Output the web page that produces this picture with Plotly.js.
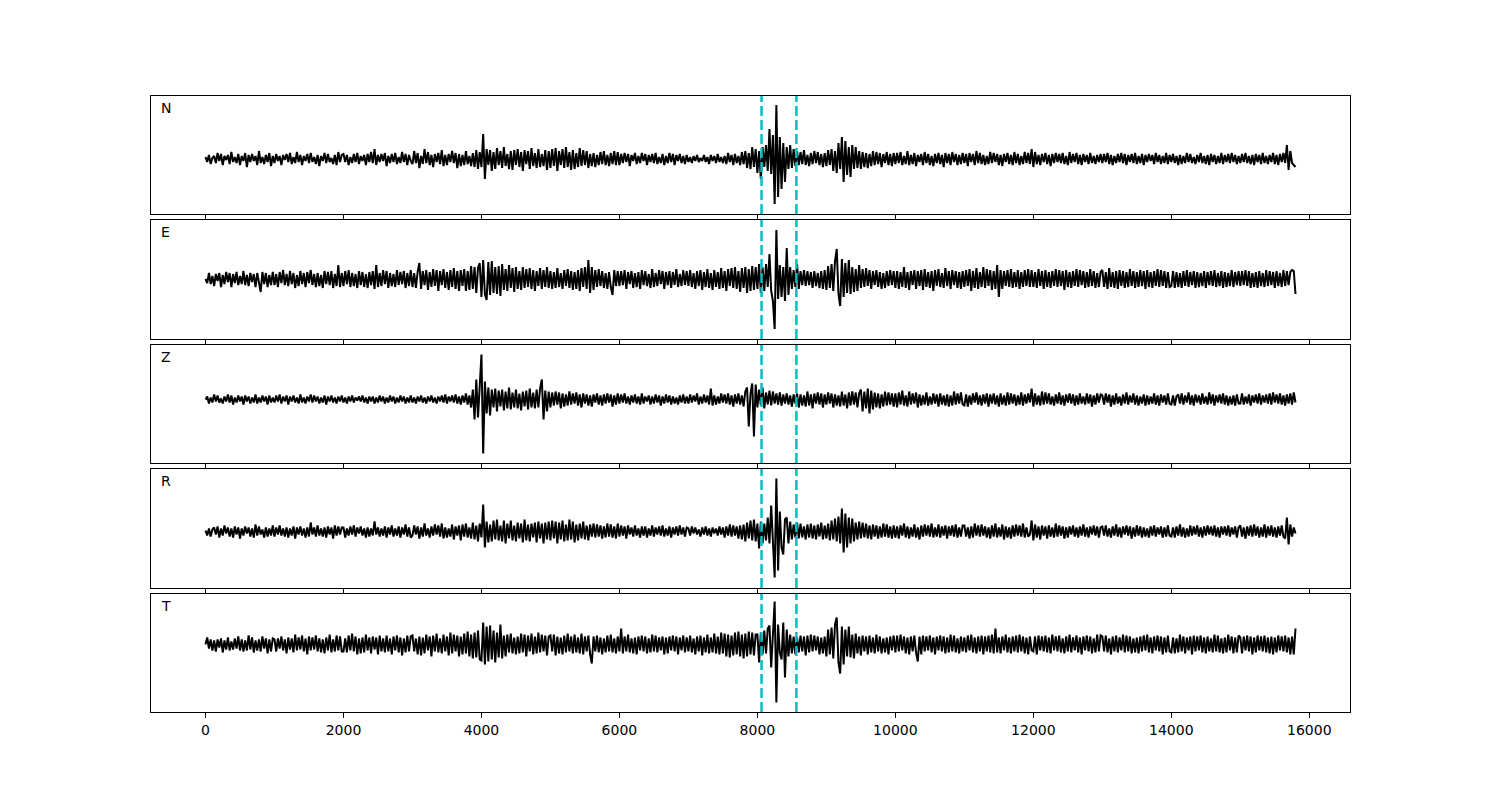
<!DOCTYPE html>
<html>
<head>
<meta charset="utf-8">
<script src="https://cdn.plot.ly/plotly-3.0.1.min.js"></script>
<style>html,body{margin:0;padding:0;background:#fff;}#chart{width:1500px;height:800px;}</style>
</head>
<body>
<div id="chart"></div>
<script>
// sample spacing of the traces (x units); one row below = 1000 x units
const dt = 25;
const components = ['N', 'E', 'Z', 'R', 'T'];
const picks = [8060, 8565];
const xTicks = [0, 2000, 4000, 6000, 8000, 10000, 12000, 14000, 16000];
const xTickLabels = ['0', '2000', '4000', '6000', '8000', '10000', '12000', '14000', '16000'];

const N = [
2,-3,4,-5,1,3,-4,6,-2,5,-6,3,-1,4,-5,7,-3,2,-4,5,-6,3,-2,6,-8,4,-3,5,-2,3,-6,8,-4,2,-5,4,-3,6,-7,3,
-4,5,-2,3,-6,4,-1,5,-3,6,-5,2,-4,7,-3,4,-6,3,-2,5,-4,6,-3,2,-5,4,-7,3,-2,6,-4,5,-3,1,-5,4,-6,7,-3,4,
5,-3,4,-6,2,-4,5,-3,6,-5,3,-2,4,-6,5,-3,7,-4,10,-6,4,-3,5,-2,6,-7,3,-4,5,-3,6,-5,2,-4,7,-3,5,-6,4,-2,
-5,8,-4,6,-9,3,-5,10,-4,7,-6,4,-8,5,-3,6,-5,9,-7,4,-6,5,-3,8,-4,6,-9,5,-7,4,-6,8,-5,3,-7,6,-8,9,-10,7,
-8,25,-20,10,-6,9,-12,7,-10,11,-6,8,-9,12,-7,5,-10,8,-11,9,-6,10,-8,7,-12,9,-5,8,-10,11,-7,6,-9,10,-8,5,-7,9,-11,8,
-9,10,-7,11,-12,8,-6,10,-9,12,-8,7,-11,9,-10,6,-8,11,-7,9,-6,8,-9,5,-7,6,-8,4,-6,7,-5,8,-6,4,-7,6,-5,8,-6,7,
-6,5,-4,6,-3,5,-7,4,-2,6,-5,3,-4,6,-2,5,-6,4,-3,5,-4,6,-5,2,-4,5,-6,3,-4,6,-3,5,-6,4,-2,5,-4,3,-5,4,
-3,2,-4,3,-2,4,-3,1,-2,4,-3,2,-5,4,-2,3,-4,5,-3,2,-4,3,-5,6,-3,4,-6,5,-4,3,-6,7,-5,8,-9,6,-10,12,-8,10,
-14,8,-20,12,-8,14,-12,30,-15,24,-45,54,-38,22,-30,16,-23,12,-10,14,-9,10,-7,8,-6,7,-5,9,-6,4,-7,6,-5,8,-4,7,-6,5,-8,6,
-7,9,-6,10,-12,8,-14,16,-10,22,-23,18,-16,12,-18,14,-10,12,-9,8,-10,7,-8,6,-9,5,-7,8,-6,7,-5,6,-8,5,-4,7,-6,5,-7,6,
-5,6,-4,7,-6,3,-5,8,-6,4,-5,6,-7,4,-3,5,-6,7,-4,5,-6,3,-7,5,-4,6,-5,4,-8,6,-4,5,-6,7,-3,5,-6,4,-5,6,
-4,5,-7,6,-3,5,-6,8,-4,6,-5,4,-6,3,-5,7,-4,6,-3,5,-6,4,-7,5,-3,6,-5,4,-6,7,-4,5,-6,3,-5,7,-4,6,-5,10,
-8,7,-5,4,-6,5,-3,6,-5,4,-7,5,-4,6,-3,5,-4,6,-5,3,-6,7,-4,5,-3,6,-5,4,-6,5,-3,4,-5,6,-4,3,-5,4,-3,5,
-4,5,-3,6,-5,4,-6,3,-4,5,-3,6,-4,5,-6,4,-3,5,-4,6,-5,3,-4,5,-6,4,-3,5,-2,4,-5,6,-3,4,-5,3,-4,6,-5,4,
-3,5,-4,3,-6,4,-5,3,-4,6,-3,5,-4,2,-5,4,-3,6,-4,3,-5,4,-6,5,-3,4,-5,3,-4,6,-5,4,-3,5,-4,6,-3,4,-5,3,
-4,5,-3,6,-4,3,-5,4,-6,5,-3,4,-5,6,-4,3,-5,4,-3,6,-5,4,-6,5,-3,6,-4,14,-11,8,-4,-6,-8
];

const E = [
0,-4,6,-5,3,-7,5,-2,6,-8,4,-5,7,-3,6,-8,5,-4,7,-6,3,-5,8,-6,4,-7,6,-3,5,-8,6,-4,-13,7,-5,6,-8,4,-6,7,
-6,5,-8,7,-4,9,-6,5,-7,8,-5,6,-9,4,-7,8,-5,6,-8,7,-4,9,-6,5,-8,6,-7,4,-9,8,-5,7,-6,8,-9,5,-7,14,-8,6,
-7,8,-5,9,-8,6,-7,5,-9,8,-6,7,-8,5,-9,7,-6,8,-10,14,-8,6,-7,9,-5,8,-9,6,-7,5,-8,9,-6,7,-5,8,-9,6,-7,9,
-8,6,-9,7,16,-10,8,-6,9,-11,7,-8,10,-7,9,-12,8,-6,10,-9,7,-11,9,-8,11,-10,8,-12,9,-7,10,-12,8,-11,13,-10,12,-14,11,16,
-18,19,-15,-21,17,-16,18,-14,12,-15,13,-17,15,-11,10,-12,14,-9,11,-13,12,-10,8,-11,12,-9,10,-8,11,-10,9,-12,8,-7,11,-10,9,-8,12,-9,
8,-10,7,-9,11,-8,6,-10,9,-7,10,-9,8,-11,7,-10,9,-12,11,-8,12,-10,19,-14,12,-11,9,-8,10,-7,8,-9,6,-10,7,-8,-16,9,-7,8,
-7,8,-6,9,-10,7,-5,8,-9,6,-8,7,-10,9,-6,8,-7,5,-9,10,-8,6,-7,9,-5,8,-10,7,-6,8,-9,7,-6,10,-8,5,-7,9,-6,8,
-7,9,-8,6,-10,8,-7,9,-11,7,-8,10,-9,6,-11,9,-8,7,-10,11,-9,8,-12,10,-7,11,-9,12,-10,8,-13,11,-9,12,-14,10,-12,13,-11,12,
-10,15,-14,12,-12,15,-8,25,-12,-22,-50,49,-20,14,-18,12,-22,31,-16,12,-10,9,-8,15,-10,8,-6,9,-7,8,-6,7,-9,8,-7,6,-9,8,-10,9,
-11,13,-9,15,-12,18,30,-15,-27,20,-18,16,-14,19,-15,12,-13,10,-12,14,-9,10,-8,11,-7,9,-10,8,-6,9,-8,7,-10,6,-9,8,-7,9,-6,8,
-9,8,-10,7,-8,12,-9,7,-11,8,-6,9,-10,8,-7,9,-11,10,-8,7,-9,8,-12,9,-7,10,-8,6,-9,11,-7,8,-10,9,-6,8,-9,7,-10,8,
-8,9,-7,10,-12,8,-9,11,-10,7,-8,12,-9,10,-7,9,-11,8,-10,14,-18,9,-10,8,-7,9,-8,10,-9,7,-8,9,-10,7,-8,9,-7,10,-8,9,
-8,7,-9,10,-7,8,-10,9,-8,7,-9,8,-7,10,-8,9,-7,8,-11,9,-8,7,-9,8,-7,10,-8,9,-6,8,-9,7,-8,10,-7,8,-9,6,-8,7,
9,-8,7,-10,11,-8,7,-9,8,-10,9,-7,8,-9,7,-8,10,-7,8,-9,7,-8,9,-7,8,-10,9,-8,7,-9,8,-7,10,-8,9,-7,8,-9,7,-8,
-7,8,-9,7,-8,6,-9,8,-7,9,-8,7,-6,8,-9,7,-8,6,-7,8,-9,7,-6,8,-7,9,-8,6,-7,8,-9,7,-8,6,-7,9,-8,7,-6,8,
-7,8,-6,9,-7,8,-9,6,-8,7,-9,8,-7,6,-8,9,-7,8,-6,7,-9,8,-7,6,-8,9,-7,8,-6,7,9,8,-15
];

const Z = [
0,3,-4,2,-3,5,-2,4,-3,1,-4,3,-2,5,-3,4,-5,2,-3,4,-2,3,-5,4,-2,3,-4,2,-3,5,-4,2,-3,4,-2,3,-5,4,-3,2,
-3,4,-2,5,-4,3,-2,4,-5,3,-2,4,-3,2,-4,5,-3,2,-4,3,-2,5,-3,4,-2,3,-4,2,-3,4,-5,3,-2,4,-3,2,-4,3,-2,4,
-3,2,-4,3,-2,4,-3,2,-1,3,-2,4,-3,2,-4,3,-2,3,-4,2,-3,4,-2,3,-4,2,-3,4,-2,3,-4,2,-3,4,-2,3,-4,2,-3,4,
-3,2,-4,3,-2,4,-3,2,-4,3,-2,4,-3,2,-4,3,-2,4,-3,5,-4,3,-2,4,-3,5,-4,3,-5,4,-3,6,-5,4,-8,10,-20,20,-18,12,
45,-54,18,-14,12,-16,10,-8,11,-12,9,-7,10,-11,8,-9,12,-10,7,-8,10,-9,6,-11,8,-7,9,-10,11,-8,7,-9,10,-8,11,20,-20,9,-12,8,
-8,7,-6,8,-5,7,-9,6,-7,5,-6,8,-5,6,-4,7,-6,5,-8,6,-4,5,-6,4,-7,5,-3,6,-5,4,-6,5,-4,6,-3,5,-7,4,-5,6,
-4,5,-3,6,-4,3,-5,4,-3,5,-4,3,-5,6,-4,3,-2,4,-5,3,-4,5,-3,4,-6,3,-4,5,-3,4,-5,3,-4,2,-5,4,-3,5,-4,3,
-4,5,-3,4,-2,6,-5,3,-4,5,-3,4,-5,11,-6,4,-5,3,-4,6,-3,5,-4,6,-5,4,-7,5,-4,6,-5,4,-7,8,12,-27,6,16,-37,15,
-8,10,-6,12,-9,7,-5,9,-6,8,-4,6,-5,7,-6,5,-4,6,-5,4,-7,5,-4,6,-8,5,-6,4,-7,8,-6,5,-9,6,-4,7,-5,6,-8,5,
-5,7,-4,6,-8,5,-6,4,-7,8,-6,5,-9,7,-6,8,-5,7,-8,6,10,-12,8,-9,11,-14,9,-10,7,-8,6,-9,5,-7,8,-6,7,-5,6,-7,
6,-8,7,-5,9,-6,4,-7,8,-5,6,-4,7,-8,5,-6,4,-5,7,-6,3,-5,6,-4,5,-7,6,-5,4,-6,5,-7,4,-6,8,-5,6,-4,7,-5,
-6,5,-7,4,-5,6,-3,7,-5,4,-6,5,-4,6,-7,5,-4,6,-5,4,-7,6,-5,4,-6,7,-5,6,-4,5,-6,4,-5,7,-6,5,-4,6,-3,11,
-7,6,-5,4,-6,8,-5,7,-4,6,-5,3,-6,5,-4,7,-5,4,-6,5,-3,6,-4,5,-6,4,-5,6,-4,3,-5,6,-4,5,-7,4,-5,6,-3,5,
4,-5,6,-3,5,-7,4,-5,6,-4,3,-6,5,-4,7,-5,4,-3,6,-5,4,-6,3,-4,5,-6,4,-5,3,-4,6,-5,4,-6,5,-3,4,-5,6,-4,
-5,4,-6,3,5,-4,6,-5,4,-3,7,-5,4,-6,5,-3,4,-5,6,-4,3,-5,7,-4,5,-6,4,-3,5,-4,6,-5,4,-6,3,-5,4,-6,5,-4,
-4,6,-5,3,-4,5,-6,4,-3,5,-4,6,-5,4,-3,5,-4,6,-5,7,-3,5,-4,6,-5,4,-6,5,-4,6,-5,7,-3
];

const R = [
1,-4,3,-5,2,4,-3,5,-6,3,-4,6,-2,4,-5,3,-6,5,-3,4,-7,3,-4,5,-2,4,-5,3,-6,7,-4,5,-3,2,-6,4,-5,3,-4,6,
-5,4,-3,6,-4,3,-5,4,-6,3,-4,5,-7,4,-3,5,-4,3,-6,4,-5,9,-3,4,-5,6,-4,3,-5,4,-6,5,-3,4,-7,6,-4,5,-3,4,
4,-6,3,-4,5,-3,6,-5,4,-2,5,-4,3,-6,4,-5,3,-4,10,-3,4,-5,3,-4,5,-6,4,-3,6,-5,3,-4,5,-6,4,-3,7,-5,4,-6,
-4,6,-3,5,-7,4,-5,8,-4,3,-6,5,-4,7,-3,6,-5,8,-7,4,-6,3,-5,7,-8,5,-4,6,-9,7,-5,8,-6,4,-7,9,-8,6,-10,8,
-6,27,-16,10,-11,7,-10,11,-8,12,-9,6,-10,11,-12,8,-7,11,-9,6,-10,9,-7,8,-11,12,-9,7,-10,8,-6,9,-11,10,-7,8,-12,9,-8,10,
-9,11,-7,10,-12,9,-8,11,-10,7,-9,12,-8,10,-11,7,-9,8,-7,10,-8,6,-9,7,-5,8,-6,7,-5,6,-7,5,-6,8,-5,7,-6,5,-7,8,
-5,6,-4,5,-7,6,-3,4,-5,6,-4,3,-6,5,-4,5,-6,3,-4,6,-5,4,-3,5,-4,6,-5,3,-4,5,-6,4,-3,5,-4,6,-3,4,-5,4,
3,-4,5,-2,4,-3,2,-5,4,-3,5,-4,3,-5,4,-2,3,-4,5,-3,4,-6,5,-4,7,-5,6,-4,5,-7,6,-8,7,-10,9,-7,11,-9,12,-10,
8,-17,10,-12,8,-9,14,-12,26,-10,-46,53,-39,20,-16,-23,12,14,-12,10,-8,7,-6,9,-7,8,-6,5,-8,7,-6,8,-7,6,-8,7,-5,9,-8,6,
-7,8,-9,11,-8,13,-10,15,-12,23,-21,18,-16,14,-12,13,-10,9,-8,10,-7,9,-6,8,-7,6,-8,7,-5,6,-7,5,-6,8,-5,7,-6,5,-7,6,
-6,5,-7,6,-4,8,-6,5,-7,4,-5,7,-6,4,-8,6,-5,7,-4,6,-5,8,-6,4,-5,7,-6,5,-4,6,-7,5,-4,6,-5,7,-6,4,-5,6,
6,-5,4,-7,5,-6,8,-4,6,-5,7,-4,5,-6,4,-7,6,-5,8,-6,4,-5,7,-8,5,-6,4,-7,6,-5,7,-4,6,-5,8,-6,4,-5,-3,11,
-9,7,-6,5,-8,6,-4,5,-7,6,-5,4,-6,8,-5,6,-4,5,-7,4,-6,5,-3,6,-5,4,-6,5,-4,7,-5,4,-6,5,-3,6,-4,5,-6,4,
5,-4,6,-5,3,-6,5,-4,7,-5,4,-6,5,-3,6,-4,5,-7,4,-5,6,-4,5,-6,4,-5,3,-6,5,-4,6,-5,4,-3,5,-6,4,-5,6,-4,
-5,4,-6,5,-4,7,-5,4,-6,3,-5,6,-4,5,-3,6,-5,4,-6,5,-4,6,-3,5,-4,6,-5,4,-6,5,-3,5,-4,6,-5,4,-3,5,-6,4,
6,-5,4,-7,5,-4,6,-5,7,-4,5,-6,4,-5,7,-6,5,-4,6,-5,4,-6,5,-4,6,-5,-7,14,-13,7,-5,4,-2
];

const T = [
0,7,-4,5,-6,4,-7,5,-3,6,-8,4,-5,7,-6,3,-5,6,-4,8,-6,5,-7,4,-6,9,-5,7,-8,4,-6,5,-7,8,-4,6,-9,5,-7,6,
5,-7,6,-4,8,-6,5,-9,7,-5,6,-8,10,-6,7,-5,9,-7,6,-10,8,-6,7,-5,9,-7,6,-8,5,-9,7,-6,10,-8,5,-7,9,-6,8,-7,
-7,6,-8,9,-6,11,-7,8,-10,6,-9,7,-8,10,-6,7,-9,8,-5,7,-10,9,-7,6,-8,9,-7,6,-10,8,-6,9,-8,7,-11,6,-8,9,-7,8,
9,-7,6,-10,8,-11,7,-9,10,-6,8,-12,9,-7,11,-8,6,-9,10,-7,8,-11,12,-9,10,-7,9,-12,8,-10,11,-9,13,-12,10,-14,12,-13,14,-15,
-16,22,-20,18,-17,19,-15,14,-18,12,-13,20,-14,9,-12,10,-8,11,-9,7,-10,8,-9,11,-8,10,-12,9,-7,11,-10,8,-9,12,-8,10,-7,9,-11,8,
9,-7,10,-11,8,-9,7,-10,9,-8,11,-7,8,-9,10,-8,7,-9,11,-10,8,-7,9,-10,-19,8,-7,9,-8,7,-10,6,-8,9,-7,10,-8,6,-9,8,
-7,16,-9,8,-7,10,-8,6,-9,7,-10,8,-6,9,-7,8,-9,6,-8,10,-7,9,-8,7,-6,8,-10,7,-9,8,-6,9,-7,8,-10,7,-6,9,-8,7,
-7,9,-8,6,-10,8,-7,9,-11,7,-8,10,-9,7,-8,11,-9,8,-10,12,-9,11,-12,10,-13,9,-11,12,-10,13,-12,10,-14,11,-12,13,-10,12,-11,10,
10,-18,12,-10,14,-9,16,19,-23,10,43,-58,20,-8,-15,22,-33,15,-12,10,-9,8,-10,7,-8,9,-7,8,-11,9,-8,10,-7,9,-6,8,-10,7,-9,8,
-12,15,-10,17,-14,20,27,-18,-29,18,-20,15,-12,18,-13,10,-14,11,-9,8,-11,9,-7,8,-10,9,-8,7,-9,10,-7,8,-9,6,-8,7,-10,8,-6,9,
-8,9,-7,10,-6,8,-9,7,-10,8,-7,9,-8,-17,8,-10,9,-7,8,-6,9,-8,7,-10,8,-6,9,-7,8,-9,7,-8,10,-7,9,-8,6,-9,8,-7,
7,-8,9,-6,10,-8,7,-9,8,-7,9,-10,8,-7,9,-8,10,-9,16,-8,7,-9,8,-6,10,-8,7,-9,8,-7,9,-8,10,-7,8,-9,7,-10,8,-6,
-7,8,-10,9,-6,8,-7,9,-8,7,-9,10,-6,8,-7,9,-8,6,-9,8,-7,10,-8,7,-6,9,-8,7,-10,8,-6,9,-7,8,-9,6,-8,10,-7,9,
8,-7,9,-8,6,-10,8,-7,9,-8,7,-6,10,-8,9,-7,8,-9,6,-8,7,-9,8,-7,9,-6,10,-8,7,-9,8,-6,9,-7,8,-10,7,-8,9,-7,
-8,7,-9,6,-8,10,-7,8,-9,7,-6,8,-10,9,-7,8,-6,9,-8,7,-9,8,-7,6,-8,10,-7,9,-8,6,-9,7,-8,10,-6,8,-9,7,-8,9,
7,-9,8,-6,9,-7,8,-10,7,-8,9,-6,8,-7,9,-8,7,-9,8,-10,7,-8,9,-6,8,-7,9,-8,7,-10,8,-10,16
];

const series = [N, E, Z, R, T];

// layout-only settings (panel placement and vertical view of each panel)
const domains = [[0.8084, 1.0], [0.6055, 0.7987], [0.4042, 0.5958], [0.2013, 0.3945], [0.0, 0.1916]];
const yRanges = [[-55, 63], [-60, 59], [-63.5, 54.5], [-56.5, 62.5], [-67.5, 50.5]];
const xRange = [-790, 16590];

const font = {family: 'DejaVu Sans', size: 14, color: '#000'};
const data = [];
const layout = {
  width: 1500, height: 800,
  margin: {l: 151, r: 150, t: 96, b: 88, pad: 0, autoexpand: false},
  paper_bgcolor: '#fff', plot_bgcolor: '#fff',
  showlegend: false,
  font: font,
  shapes: [],
  annotations: []
};

series.forEach((vals, i) => {
  const k = i + 1;
  const xs = vals.map((_, j) => j * dt);
  data.push({
    type: 'scatter', mode: 'lines',
    x: xs, y: vals,
    xaxis: 'x' + k, yaxis: 'y' + k,
    line: {color: '#000', width: 2},
    hoverinfo: 'skip'
  });
  layout['xaxis' + k] = {
    domain: [0, 1], anchor: 'y' + k, range: xRange,
    tickmode: 'array', tickvals: xTicks, ticktext: xTickLabels,
    ticks: 'outside', ticklen: 5, tickwidth: 1, tickcolor: '#000',
    showticklabels: k === 5, tickfont: font,
    showline: true, mirror: true, linecolor: '#000', linewidth: 1,
    showgrid: false, zeroline: false, fixedrange: true
  };
  layout['yaxis' + k] = {
    domain: domains[i], anchor: 'x' + k, range: yRanges[i],
    showticklabels: false, ticks: '',
    showline: true, mirror: true, linecolor: '#000', linewidth: 1,
    showgrid: false, zeroline: false, fixedrange: true
  };
  picks.forEach(p => {
    layout.shapes.push({
      type: 'line', xref: 'x' + k, yref: 'y' + k + ' domain',
      x0: p, x1: p, y0: 0, y1: 1, layer: 'above',
      line: {color: '#00bfbf', width: 2.5, dash: '10px,4px'}
    });
  });
  layout.annotations.push({
    xref: 'x' + k + ' domain', yref: 'y' + k + ' domain',
    x: 0.007, y: 0.9, xanchor: 'left', yanchor: 'middle',
    text: components[i], showarrow: false, font: font
  });
});

Plotly.newPlot('chart', data, layout, {staticPlot: true, displayModeBar: false});
</script>
</body>
</html>
